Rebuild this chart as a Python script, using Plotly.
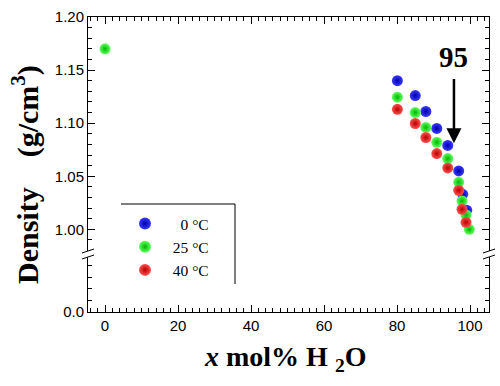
import plotly.graph_objects as go

# ---- data ----
x_0C = [80.1, 85.0, 87.9, 90.9, 93.9, 96.9, 98.0, 99.1]
d_0C = [1.140, 1.126, 1.111, 1.095, 1.079, 1.055, 1.033, 1.018]

x_25C = [0.0, 80.1, 85.0, 87.9, 90.9, 93.9, 96.9, 97.8, 98.9, 99.8]
d_25C = [1.170, 1.1245, 1.110, 1.096, 1.082, 1.0667, 1.0443, 1.0267, 1.0135, 1.000]

x_40C = [80.1, 85.0, 87.9, 90.9, 93.9, 96.9, 97.8, 98.9]
d_40C = [1.113, 1.0997, 1.0865, 1.0714, 1.0578, 1.0368, 1.0189, 1.0066]

series = [
    ("\u2007\u20070 \u00b0C", x_0C, d_0C, "#3a3aff", "#0000a8"),
    ("\u200725 \u00b0C", x_25C, d_25C, "#60ff60", "#00b800"),
    ("\u200740 \u00b0C", x_40C, d_40C, "#ff5050", "#b80000"),
]

annot_x = 95.6
annot_label = "95"

fig = go.Figure()
for name, xs, ys, c1, c2 in series:
    fig.add_trace(go.Scatter(
        x=xs, y=ys, mode="markers", name=name, xaxis="x", yaxis="y",
        marker=dict(size=11, color=c1, line=dict(width=0),
                    gradient=dict(type="radial", color=c2)),
    ))
# empty trace to keep lower subplot drawn
fig.add_trace(go.Scatter(x=[None], y=[None], xaxis="x2", yaxis="y2",
                         showlegend=False, hoverinfo="skip"))

xrange = [-4.66, 105.2]
tickfont = dict(family="Liberation Sans, Arial", size=15, color="black")
common_x = dict(range=xrange, showline=True, linecolor="black", linewidth=1,
                ticks="inside", ticklen=7, tickcolor="black", showgrid=False,
                zeroline=False, dtick=20, tick0=0, automargin=False,
                minor=dict(dtick=2, ticks="inside", ticklen=4, tickcolor="black"))
fig.update_layout(
    width=500, height=386,
    margin=dict(l=88, r=11, t=17, b=74, autoexpand=False),
    paper_bgcolor="white", plot_bgcolor="white",
    showlegend=True,
    legend=dict(x=(125 - 88) / 401, y=(312 - 207) / 295, xanchor="left", yanchor="top",
                bgcolor="rgba(0,0,0,0)", borderwidth=0,
                font=dict(family="Liberation Serif, Times New Roman", size=15.5, color="black"),
                tracegroupgap=0, itemsizing="constant"),
    xaxis=dict(common_x, anchor="y", side="top", showticklabels=False),
    xaxis2=dict(common_x, anchor="y2", side="bottom", matches="x", tickfont=tickfont),
    yaxis=dict(domain=[(312 - 251) / 295, 1], anchor="x", range=[0.9796, 1.2],
               showline=True, linecolor="black", linewidth=1, mirror="allticks",
               ticks="inside", ticklen=7, tickcolor="black", showgrid=False, zeroline=False,
               tickvals=[1.00, 1.05, 1.10, 1.15, 1.20], automargin=False,
               ticktext=["1.00", "1.05", "1.10", "1.15", "1.20"],
               minor=dict(dtick=0.01, tick0=0, ticks="inside", ticklen=4, tickcolor="black"),
               tickfont=tickfont),
    yaxis2=dict(domain=[0, (312 - 257) / 295], anchor="x2", range=[0, 0.472],
                showline=True, linecolor="black", linewidth=1, mirror="allticks",
                ticks="inside", ticklen=7, tickcolor="black", showgrid=False, zeroline=False,
                tickvals=[0], ticktext=["0.0"], automargin=False,
                minor=dict(dtick=0.1, tick0=0, ticks="inside", ticklen=4, tickcolor="black"),
                tickfont=tickfont),
)

def px2paper(px, py):
    return (px - 88) / 401, (312 - py) / 295

shapes = []
# axis break marks (left and right)
for bx in (88, 489):
    for by in (251, 257):
        x0, y0 = px2paper(bx - 6, by + 2)
        x1, y1 = px2paper(bx + 6, by - 2)
        shapes.append(dict(type="line", xref="paper", yref="paper",
                           x0=x0, y0=y0, x1=x1, y1=y1,
                           line=dict(color="black", width=1)))
# legend frame (top and right sides)
lx0, ly0 = px2paper(121, 204)
lx1, ly1 = px2paper(235, 284)
shapes.append(dict(type="line", xref="paper", yref="paper", x0=lx0, y0=ly0, x1=lx1, y1=ly0,
                   line=dict(color="black", width=1)))
shapes.append(dict(type="line", xref="paper", yref="paper", x0=lx1, y0=ly0, x1=lx1, y1=ly1,
                   line=dict(color="black", width=1)))
fig.update_layout(shapes=shapes)

fig.add_annotation(xref="paper", yref="paper", x=(25 - 88) / 401, y=(312 - 175) / 295,
                   text="<b>Density\u00a0\u00a0\u00a0\u00a0(g/cm<sup>3</sup>)</b>",
                   textangle=-90,
                   showarrow=False, xanchor="center", yanchor="middle",
                   font=dict(family="Liberation Serif, Times New Roman", size=30, color="black"))
fig.add_annotation(xref="paper", yref="paper", x=(285 - 88) / 401, y=(312 - 358) / 295,
                   text="<b><i>x</i> mol% H\u00a0<sub>2</sub>O</b>",
                   showarrow=False, xanchor="center", yanchor="middle",
                   font=dict(family="Liberation Serif, Times New Roman", size=28, color="black"))
# "95" label and arrow
fig.add_annotation(xref="x", yref="y", x=annot_x, y=1.1625, text="<b>" + annot_label + "</b>",
                   showarrow=False, font=dict(family="Liberation Serif, Times New Roman",
                                              size=29, color="black"))
fig.add_annotation(xref="x", yref="y", x=annot_x, y=1.081, axref="x", ayref="y",
                   ax=annot_x, ay=1.143, text="", showarrow=True,
                   arrowhead=2, arrowsize=1.2, arrowwidth=2.5, arrowcolor="black")

fig.write_html("out.html", post_script="document.body.style.margin='0';",
               config={"displayModeBar": False})
